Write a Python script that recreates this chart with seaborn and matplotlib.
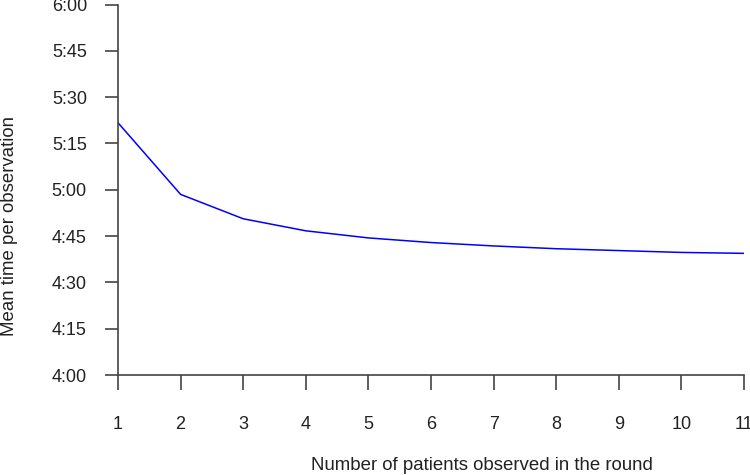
import numpy as np
import pandas as pd
import matplotlib
matplotlib.use("Agg")
import matplotlib.pyplot as plt
import matplotlib.ticker as mticker
import seaborn as sns

# number of patients observed in the round
patients = [1, 2, 3, 4, 5, 6, 7, 8, 9, 10, 11]
# mean time per observation, in seconds
mean_secs = [321.7, 298.5, 290.6, 286.7, 284.4, 282.9, 281.8, 280.9, 280.3, 279.7, 279.4]
y_ticks = [240, 255, 270, 285, 300, 315, 330, 345, 360]

df = pd.DataFrame({"patients": patients, "secs": mean_secs})

sns.set_style("ticks")
plt.rcParams["font.family"] = ["Liberation Sans", "DejaVu Sans"]

fig = plt.figure(figsize=(7.5, 4.75), dpi=100)
ax = fig.add_axes([118/750, 1 - 375/475, 626/750, 370.5/475])

sns.lineplot(data=df, x="patients", y="secs", color="#0000ff", linewidth=1.1, ax=ax)

ax.set_xlim(1, 11)
ax.set_ylim(240, 360)
ax.set_xticks(patients)
ax.set_yticks(y_ticks)
ax.yaxis.set_major_formatter(mticker.FuncFormatter(lambda v, p: f"{int(v)//60}:{int(v)%60:02d}"))

for s in ["top", "right"]:
    ax.spines[s].set_visible(False)
for s in ["left", "bottom"]:
    ax.spines[s].set_color("#444444")
    ax.spines[s].set_linewidth(1.2)

ax.tick_params(axis="both", width=1.2, color="#444444", labelsize=13, labelcolor="#222222")
ax.tick_params(axis="x", length=10.8, pad=19)
ax.tick_params(axis="y", length=9.4, pad=13)

ax.set_xlabel("Number of patients observed in the round", fontsize=13.4, color="#222222")
ax.set_ylabel("Mean time per observation", fontsize=13.4, color="#222222")
ax.xaxis.set_label_coords(0.582, -0.222)
ax.yaxis.set_label_coords(-0.16, 0.402)

fig.savefig("out.png", dpi=100)
